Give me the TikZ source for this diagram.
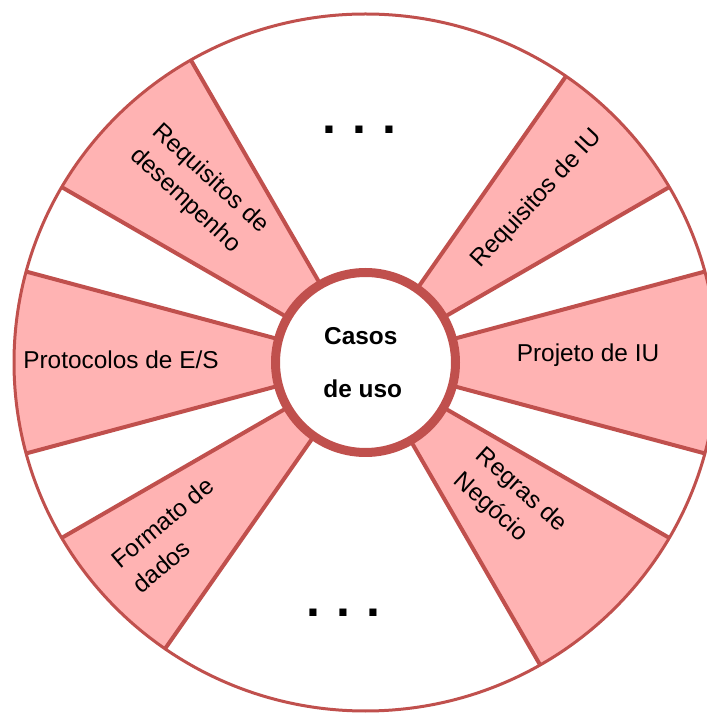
\documentclass[tikz,border=0pt]{standalone}
\usepackage{fontspec}
\setmainfont{Liberation Sans}
\definecolor{wheelline}{RGB}{192,80,77}
\definecolor{wheelfill}{RGB}{255,179,179}
\begin{document}
\begin{tikzpicture}[x=1pt,y=1pt,
  sector/.style={fill=wheelfill},
  spokeline/.style={draw=wheelline,line width=4pt},
  rim/.style={draw=wheelline,line width=3pt},
  hubring/.style={circle,draw=wheelline,line width=9pt,fill=white,
    minimum size=180pt,inner sep=0pt},
  lbl/.style={font=\fontsize{24.4}{33}\selectfont,text=black,inner sep=0pt,align=left},
  hubtext/.style={font=\fontsize{24.4}{28}\selectfont\bfseries,text=black,inner sep=0pt,anchor=base},
  dots/.style={font=\fontsize{50}{50}\selectfont\bfseries,text=black,inner sep=0pt,anchor=base}]
\useasboundingbox (0,0) rectangle (707,713);
\coordinate (c) at (365.5,350.5);

% coloured sectors and spokes, kept inside the rim
\begin{scope}
  \clip (c) ellipse [x radius=351.5, y radius=348.5];
  \foreach \a/\b in {120/150,165/195,210/235,30/55,-15/15,-60/-30}{
    \fill[sector] (c) -- +(\a:420) -- +(\b:420) -- cycle;
  }
  \foreach \a in {120,150,165,195,210,235,30,55,-15,15,-60,-30}{
    \draw[spokeline,shift={(c)}] (\a:80) -- (\a:420);
  }
\end{scope}
\draw[rim] (c) ellipse [x radius=351.5, y radius=348.5];

% hub
\node[hubring] (hub) at (c) {};
\node[hubtext] (casos) at (360.8,368) {Casos};
\node[hubtext] (deuso) at (362.7,315) {de uso};

% sector labels
\node[lbl,rotate=-43] (desempenho) at (199,522) {Requisitos de\\desempenho};
\node[lbl,rotate=47] (reqiu) at (537,514) {Requisitos de IU};
\node[lbl,anchor=base] (protocolos) at (121,344) {Protocolos de E/S};
\node[lbl,anchor=base] (projeto) at (588,351) {Projeto de IU};
\node[lbl,rotate=40] (formato) at (173,178) {Formato de\\dados};
\node[lbl,rotate=-42] (regras) at (510,210) {Regras de\\Negócio};

% ellipses in the open sectors
\node[dots] (dotstop) at (359,579.5) {.\hspace{16.1pt}.\hspace{16.1pt}.};
\node[dots] (dotsbottom) at (343.7,96.5) {.\hspace{16.1pt}.\hspace{16.1pt}.};
\end{tikzpicture}
\end{document}
